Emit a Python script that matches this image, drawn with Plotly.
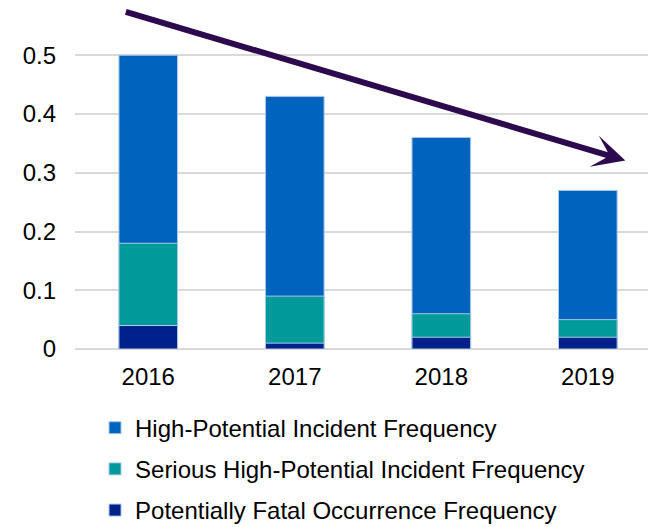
import plotly.graph_objects as go

years = ["2016", "2017", "2018", "2019"]
# Cumulative (stacked-top) values
hpi_freq = [0.50, 0.43, 0.36, 0.27]    # High-Potential Incident Frequency
shpi_freq = [0.18, 0.09, 0.06, 0.05]   # Serious High-Potential Incident Frequency
pfo_freq = [0.04, 0.01, 0.02, 0.02]    # Potentially Fatal Occurrence Frequency

series_names = [
    "High-Potential Incident Frequency",
    "Serious High-Potential Incident Frequency",
    "Potentially Fatal Occurrence Frequency",
]
colors = ["#0063BE", "#009A9A", "#00208A"]
y_ticks = [0, 0.1, 0.2, 0.3, 0.4, 0.5]
y_tick_text = ["0", "0.1", "0.2", "0.3", "0.4", "0.5"]

font_family = "Liberation Sans, Arial, sans-serif"

fig = go.Figure()
for i, (name, vals, col) in enumerate(zip(series_names, [hpi_freq, shpi_freq, pfo_freq], colors)):
    fig.add_trace(go.Bar(
        x=years, y=vals, name=name, width=0.4,
        marker=dict(color=col, line=dict(color="#A9C8EA", width=1)),
        legendgroup=str(i),
    ))

fig.update_layout(
    width=656, height=527,
    barmode="overlay",
    plot_bgcolor="white", paper_bgcolor="white",
    margin=dict(l=67, r=0, t=12, b=186, autoexpand=False),
    font=dict(family=font_family, size=24, color="#000000"),
    showlegend=True,
    legend=dict(
        x=0.034, y=-0.172, xanchor="left", yanchor="top",
        traceorder="grouped", tracegroupgap=7,
        font=dict(size=24, color="#000000"),
        bgcolor="rgba(0,0,0,0)",
    ),
    xaxis=dict(
        range=[-0.5, 3.52], showgrid=False, showline=False, zeroline=False,
        tickfont=dict(size=24), ticklabelstandoff=11, fixedrange=True,
        automargin=False,
    ),
    yaxis=dict(
        range=[0, 0.56], tickvals=y_ticks, ticktext=y_tick_text,
        showgrid=True, gridcolor="#D9D9D9", gridwidth=1.5,
        zeroline=True, zerolinecolor="#D9D9D9", zerolinewidth=1.5,
        showline=False, tickfont=dict(size=24), ticklabelstandoff=18,
        fixedrange=True, automargin=False,
    ),
)

# Downward trend arrow
fig.add_annotation(
    x=3.256, y=0.321, xref="x", yref="y",
    ax=-501, ay=-149, axref="pixel", ayref="pixel",
    text="", showarrow=True, arrowhead=3, arrowsize=0.9,
    arrowwidth=6, arrowcolor="#2D0A4E",
)

fig.write_html("out.html")
